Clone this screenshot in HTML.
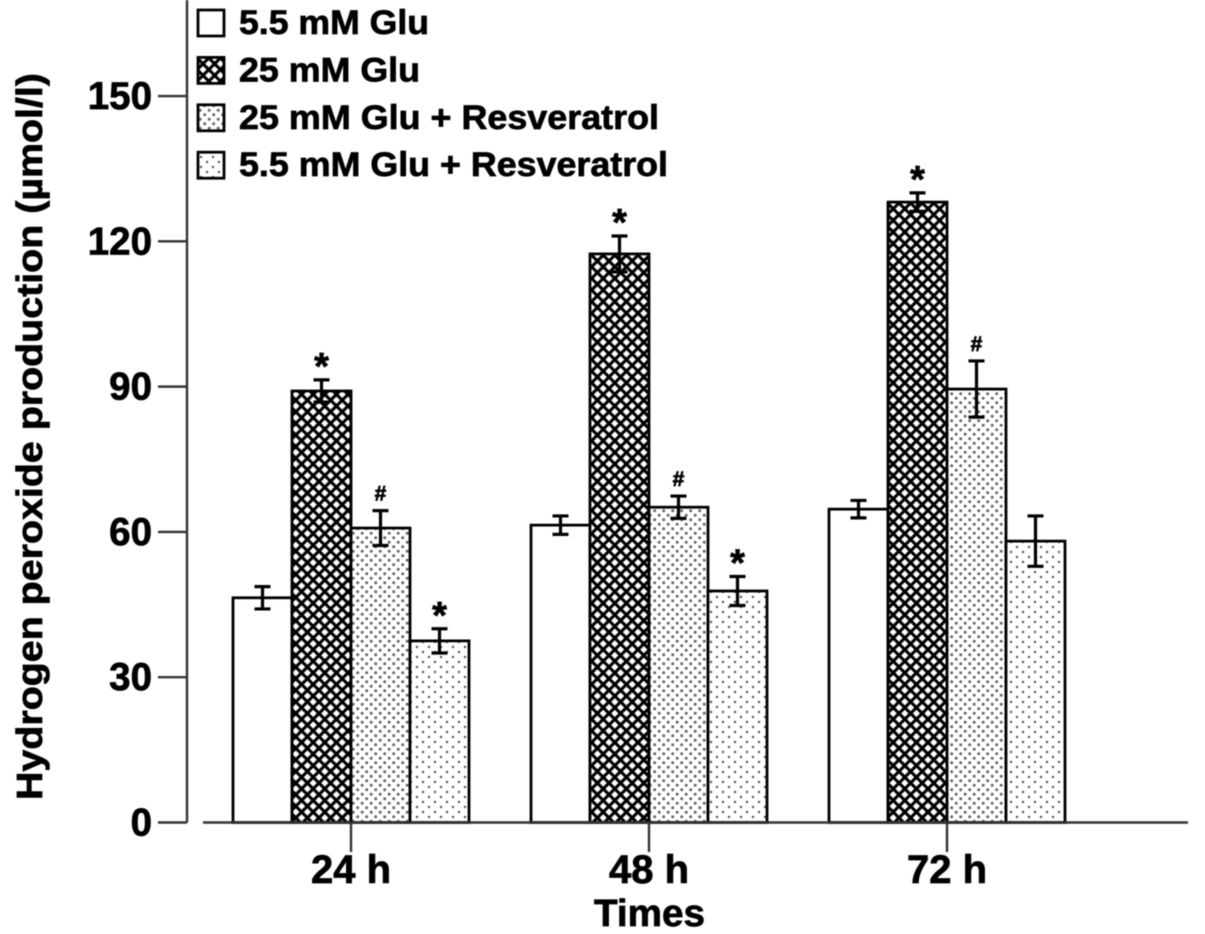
<!DOCTYPE html>
<html lang="en">
<head>
<meta charset="utf-8">
<title>Hydrogen peroxide production</title>
<style>
html,body{margin:0;padding:0;background:#fff;width:1205px;height:934px;overflow:hidden}
svg{display:block;filter:blur(0.45px)}
text{font-family:"Liberation Sans",Arial,sans-serif;font-weight:bold;fill:#000;stroke:#000;stroke-width:0.7px}
</style>
</head>
<body>
<svg id="chart" xmlns="http://www.w3.org/2000/svg" width="1205" height="934" viewBox="0 0 1205 934">
<defs>
<pattern id="p-cross" patternUnits="userSpaceOnUse" width="11.6" height="11.6">
<rect width="11.6" height="11.6" fill="#fff"/>
<path d="M-2.9,2.9 L2.9,-2.9 M0,11.6 L11.6,0 M8.7,14.5 L14.5,8.7 M-2.9,8.7 L2.9,14.5 M0,0 L11.6,11.6 M8.7,-2.9 L14.5,2.9" stroke="#000" stroke-width="3.1" fill="none"/>
</pattern>
<pattern id="p-dense" patternUnits="userSpaceOnUse" width="9" height="9">
<rect width="9" height="9" fill="#fff"/>
<circle cx="2.2" cy="2.2" r="1.5" fill="#666"/>
<circle cx="6.7" cy="6.7" r="1.5" fill="#666"/>
</pattern>
<pattern id="p-sparse" patternUnits="userSpaceOnUse" width="12" height="10">
<rect width="12" height="10" fill="#fff"/>
<circle cx="3" cy="2" r="1.2" fill="#555"/>
<circle cx="9" cy="7" r="1.2" fill="#555"/>
</pattern>
</defs>
<g id="bars"></g>
<g id="axes"></g>
<g id="legend"></g>
<text transform="translate(42,800) rotate(-90)" font-size="36" textLength="727" lengthAdjust="spacingAndGlyphs">Hydrogen peroxide production (µmol/l)</text>
<text x="594" y="926" font-size="38" textLength="111" lengthAdjust="spacingAndGlyphs">Times</text>
</svg>
<script>
const categories = ['24 h', '48 h', '72 h'];
const seriesNames = ['5.5 mM Glu', '25 mM Glu', '25 mM Glu + Resveratrol', '5.5 mM Glu + Resveratrol'];
const glu55 = [46.4, 61.4, 64.7];
const glu25 = [89.1, 117.4, 128.1];
const glu25Res = [60.8, 65.1, 89.5];
const glu55Res = [37.5, 47.8, 58.1];
const glu55Err = [2.3, 1.9, 1.8];
const glu25Err = [2.3, 3.7, 1.9];
const glu25ResErr = [3.6, 2.3, 5.8];
const glu55ResErr = [2.5, 3.0, 5.2];
const glu55Marks = ['', '', ''];
const glu25Marks = ['*', '*', '*'];
const glu25ResMarks = ['#', '#', '#'];
const glu55ResMarks = ['*', '*', ''];
const yTicks = [0, 30, 60, 90, 120, 150];

const NS = 'http://www.w3.org/2000/svg';
const values = [glu55, glu25, glu25Res, glu55Res];
const errors = [glu55Err, glu25Err, glu25ResErr, glu55ResErr];
const marks = [glu55Marks, glu25Marks, glu25ResMarks, glu55ResMarks];
const fills = ['#fff', 'url(#p-cross)', 'url(#p-dense)', 'url(#p-sparse)'];
const barWidth = 59;

function yScale(v) { return 822.5 - v * 4.843; }
function xCenter(i) { return 351 + i * 298; }
function xBar(i, s) { return xCenter(i) + (s - 2) * barWidth; }

function make(tag, attrs, parent) {
  const el = document.createElementNS(NS, tag);
  for (const k in attrs) el.setAttribute(k, attrs[k]);
  parent.appendChild(el);
  return el;
}

const barsG = document.getElementById('bars');
const axesG = document.getElementById('axes');
const legendG = document.getElementById('legend');

values.forEach(function (series, s) {
  series.forEach(function (v, i) {
    const x = xBar(i, s);
    const top = yScale(v);
    const bar = make('rect', { x: x, y: top, width: barWidth, height: yScale(0) - top, fill: fills[s], stroke: '#000', 'stroke-width': 2.8 }, barsG);
    
    
  });
});

values.forEach(function (series, s) {
  series.forEach(function (v, i) {
    const cx = xBar(i, s) + barWidth / 2;
    const hi = yScale(v + errors[s][i]);
    const lo = yScale(v - errors[s][i]);
    const err = make('path', {
      d: 'M' + (cx - 8) + ',' + hi + 'H' + (cx + 8) + 'M' + cx + ',' + hi + 'V' + lo + 'M' + (cx - 8) + ',' + lo + 'H' + (cx + 8),
      fill: 'none', stroke: '#000', 'stroke-width': 3.2
    }, barsG);
    
    
    const m = marks[s][i];
    if (m) {
      const star = m === '*';
      const t = make('text', {
        x: cx, y: hi + (star ? -1 : -10), 'text-anchor': 'middle',
        'font-size': star ? 38 : 21
      }, barsG);
      t.textContent = m;
      
      
    }
  });
});

const yAxis = make('line', { x1: 187, y1: 0, x2: 187, y2: yScale(0), stroke: '#333', 'stroke-width': 2.4 }, axesG);


const xAxis = make('line', { x1: 203, y1: yScale(0), x2: 1188, y2: yScale(0), stroke: '#333', 'stroke-width': 2.4 }, axesG);



yTicks.forEach(function (v) {
  const tick = make('line', { x1: 158, y1: yScale(v), x2: 187, y2: yScale(v), stroke: '#333', 'stroke-width': 2.4 }, axesG);
  
  
  const label = make('text', { x: 152, y: yScale(v) + 13, 'text-anchor': 'end', 'font-size': 38.5 }, axesG);
  label.textContent = v;
  
  
});

categories.forEach(function (c, i) {
  const tick = make('line', { x1: xCenter(i), y1: yScale(0), x2: xCenter(i), y2: 852, stroke: '#333', 'stroke-width': 2.4 }, axesG);
  
  
  const label = make('text', { x: xCenter(i), y: 883, 'text-anchor': 'middle', 'font-size': 40 }, axesG);
  label.textContent = c;
  
  
});

const legendWidths = [190, 181, 420, 429];
seriesNames.forEach(function (n, s) {
  const top = 10 + s * 47.4;
  const swatch = make('rect', { x: 198, y: top, width: 26, height: 26, fill: fills[s], stroke: '#000', 'stroke-width': 2.8 }, legendG);
  
  
  const label = make('text', { x: 239, y: top + 24, 'font-size': 34, textLength: legendWidths[s], lengthAdjust: 'spacingAndGlyphs' }, legendG);
  label.textContent = n;
  
  
});
</script>
</body>
</html>
